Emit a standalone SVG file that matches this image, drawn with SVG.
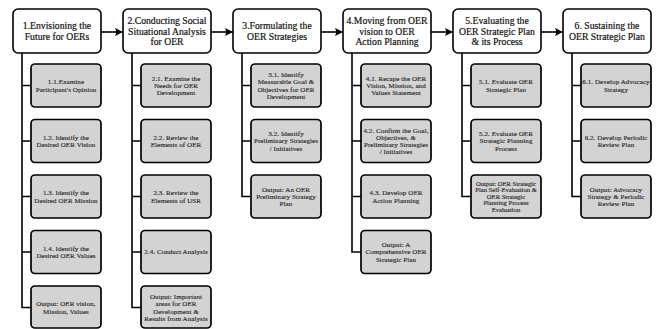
<svg xmlns="http://www.w3.org/2000/svg" width="656" height="329" viewBox="0 0 656 329">
<defs>
<marker id="ah" markerUnits="userSpaceOnUse" markerWidth="9" markerHeight="9" refX="8" refY="4" orient="auto">
<path d="M0,0 L8,4 L0,8 L1.5,4 z" fill="#000"/>
</marker>
<style>
.main{fill:#fff;stroke:#000;stroke-width:1.6}
.sub{fill:#d3d3d3;stroke:#000;stroke-width:1.7}
.mt{font-family:"Liberation Serif",serif;font-size:9.7px;fill:#111;text-anchor:middle;stroke:#111;stroke-width:0.2}
.st{font-family:"Liberation Serif",serif;font-size:7px;fill:#2a2a2a;text-anchor:middle;stroke:#2a2a2a;stroke-width:0.15;letter-spacing:0.08px}
.st5{font-size:6.6px;letter-spacing:0}
.ln{fill:none;stroke:#000;stroke-width:1.6}
</style>
</defs>
<rect width="656" height="329" fill="#fff"/>
<g id="connectors">
<line class="ln" x1="101" y1="32" x2="123" y2="32" marker-end="url(#ah)"/>
<line class="ln" x1="211" y1="32" x2="233" y2="32" marker-end="url(#ah)"/>
<line class="ln" x1="321" y1="32" x2="343" y2="32" marker-end="url(#ah)"/>
<line class="ln" x1="431" y1="32" x2="453" y2="32" marker-end="url(#ah)"/>
<line class="ln" x1="541" y1="32" x2="563" y2="32" marker-end="url(#ah)"/>
<path class="ln" d="M22,53 V307.5 H31 M22,85.5 H31 M22,141 H31 M22,196.5 H31 M22,252 H31"/>
<path class="ln" d="M132,53 V307.5 H141 M132,85.5 H141 M132,141 H141 M132,196.5 H141 M132,252 H141"/>
<path class="ln" d="M242,53 V196.5 H251 M242,85.5 H251 M242,141 H251"/>
<path class="ln" d="M352,53 V252 H361 M352,85.5 H361 M352,141 H361 M352,196.5 H361"/>
<path class="ln" d="M462,53 V196.5 H471 M462,85.5 H471 M462,141 H471"/>
<path class="ln" d="M572,53 V196.5 H581 M572,85.5 H581 M572,141 H581"/>
</g>
<g id="n1"><rect class="main" x="13" y="9" width="88" height="44" rx="5"/><text class="mt"><tspan x="57" y="29.3">1.Envisioning the</tspan><tspan x="57" y="39.8">Future for OERs</tspan></text></g>
<g id="n2"><rect class="main" x="123" y="9" width="88" height="44" rx="5"/><text class="mt"><tspan x="167" y="24">2.Conducting Social</tspan><tspan x="167" y="34.5">Situational Analysis</tspan><tspan x="167" y="45">for OER</tspan></text></g>
<g id="n3"><rect class="main" x="233" y="9" width="88" height="44" rx="5"/><text class="mt"><tspan x="277" y="29.3">3.Formulating the</tspan><tspan x="277" y="39.8">OER Strategies</tspan></text></g>
<g id="n4"><rect class="main" x="343" y="9" width="88" height="44" rx="5"/><text class="mt"><tspan x="387" y="24">4.Moving from OER</tspan><tspan x="387" y="34.5">vision to OER</tspan><tspan x="387" y="45">Action Planning</tspan></text></g>
<g id="n5"><rect class="main" x="453" y="9" width="88" height="44" rx="5"/><text class="mt"><tspan x="497" y="24">5.Evaluating the</tspan><tspan x="497" y="34.5">OER Strategic Plan</tspan><tspan x="497" y="45">&amp; its Process</tspan></text></g>
<g id="n6"><rect class="main" x="563" y="9" width="88" height="44" rx="5"/><text class="mt"><tspan x="607" y="29.3">6. Sustaining the</tspan><tspan x="607" y="39.8">OER Strategic Plan</tspan></text></g>

<g id="n1-1"><rect class="sub" x="31" y="64" width="70" height="43" rx="4"/><text class="st"><tspan x="66" y="84.3">1.1.Examine</tspan><tspan x="66" y="91.6">Participant's Opinion</tspan></text></g>
<g id="n1-2"><rect class="sub" x="31" y="119.5" width="70" height="43" rx="4"/><text class="st"><tspan x="66" y="139.8">1.2. Identify the</tspan><tspan x="66" y="147.1">Desired OER Vision</tspan></text></g>
<g id="n1-3"><rect class="sub" x="31" y="175" width="70" height="43" rx="4"/><text class="st"><tspan x="66" y="195.3">1.3. Identify the</tspan><tspan x="66" y="202.6">Desired OER Mission</tspan></text></g>
<g id="n1-4"><rect class="sub" x="31" y="230.5" width="70" height="43" rx="4"/><text class="st"><tspan x="66" y="250.8">1.4. Identify the</tspan><tspan x="66" y="258.1">Desired OER Values</tspan></text></g>
<g id="n1-5"><rect class="sub" x="31" y="286" width="70" height="42" rx="4"/><text class="st"><tspan x="66" y="306.3">Output: OER vision,</tspan><tspan x="66" y="313.6">Mission, Values</tspan></text></g>

<g id="n2-1"><rect class="sub" x="141" y="64" width="70" height="43" rx="4"/><text class="st"><tspan x="176" y="80.65">2.1. Examine the</tspan><tspan x="176" y="87.95">Needs for OER</tspan><tspan x="176" y="95.25">Development</tspan></text></g>
<g id="n2-2"><rect class="sub" x="141" y="119.5" width="70" height="43" rx="4"/><text class="st"><tspan x="176" y="139.8">2.2. Review the</tspan><tspan x="176" y="147.1">Elements of OER</tspan></text></g>
<g id="n2-3"><rect class="sub" x="141" y="175" width="70" height="43" rx="4"/><text class="st"><tspan x="176" y="195.3">2.3. Review the</tspan><tspan x="176" y="202.6">Elements of USR</tspan></text></g>
<g id="n2-4"><rect class="sub" x="141" y="230.5" width="70" height="43" rx="4"/><text class="st"><tspan x="176" y="254.45">2.4. Conduct Analysis</tspan></text></g>
<g id="n2-5"><rect class="sub" x="141" y="286" width="70" height="42" rx="4"/><text class="st"><tspan x="176" y="299">Output: Important</tspan><tspan x="176" y="306.3">areas for OER</tspan><tspan x="176" y="313.6">Development &amp;</tspan><tspan x="176" y="320.9">Results from Analysis</tspan></text></g>

<g id="n3-1"><rect class="sub" x="251" y="64" width="70" height="43" rx="4"/><text class="st"><tspan x="286" y="77">3.1. Identify</tspan><tspan x="286" y="84.3">Measurable Goal &amp;</tspan><tspan x="286" y="91.6">Objectives for OER</tspan><tspan x="286" y="98.9">Development</tspan></text></g>
<g id="n3-2"><rect class="sub" x="251" y="119.5" width="70" height="43" rx="4"/><text class="st"><tspan x="286" y="136.15">3.2. Identify</tspan><tspan x="286" y="143.45">Preliminary Strategies</tspan><tspan x="286" y="150.75">/ Initiatives</tspan></text></g>
<g id="n3-3"><rect class="sub" x="251" y="175" width="70" height="43" rx="4"/><text class="st"><tspan x="286" y="191.65">Output: An OER</tspan><tspan x="286" y="198.95">Preliminary Strategy</tspan><tspan x="286" y="206.25">Plan</tspan></text></g>

<g id="n4-1"><rect class="sub" x="361" y="64" width="70" height="43" rx="4"/><text class="st"><tspan x="396" y="80.65">4.1. Recape the OER</tspan><tspan x="396" y="87.95">Vision, Mission, and</tspan><tspan x="396" y="95.25">Values Statement</tspan></text></g>
<g id="n4-2"><rect class="sub" x="361" y="119.5" width="70" height="43" rx="4"/><text class="st"><tspan x="396" y="132.5">4.2. Confirm the Goal,</tspan><tspan x="396" y="139.8">Objectives, &amp;</tspan><tspan x="396" y="147.1">Preliminary Strategies</tspan><tspan x="396" y="154.4">/ Initiatives</tspan></text></g>
<g id="n4-3"><rect class="sub" x="361" y="175" width="70" height="43" rx="4"/><text class="st"><tspan x="396" y="195.3">4.3. Develop OER</tspan><tspan x="396" y="202.6">Action Planning</tspan></text></g>
<g id="n4-4"><rect class="sub" x="361" y="230.5" width="70" height="43" rx="4"/><text class="st"><tspan x="396" y="247.15">Output: A</tspan><tspan x="396" y="254.45">Comprehensive OER</tspan><tspan x="396" y="261.75">Strategic Plan</tspan></text></g>

<g id="n5-1"><rect class="sub" x="471" y="64" width="70" height="43" rx="4"/><text class="st"><tspan x="506" y="84.3">5.1. Evaluate OER</tspan><tspan x="506" y="91.6">Strategic Plan</tspan></text></g>
<g id="n5-2"><rect class="sub" x="471" y="119.5" width="70" height="43" rx="4"/><text class="st"><tspan x="506" y="136.15">5.2. Evaluate OER</tspan><tspan x="506" y="143.45">Strategic Planning</tspan><tspan x="506" y="150.75">Process</tspan></text></g>
<g id="n5-3"><rect class="sub" x="471" y="175" width="70" height="43" rx="4"/><text class="st st5"><tspan x="506" y="185.6">Output: OER Strategic</tspan><tspan x="506" y="192.2">Plan Self-Evaluation &amp;</tspan><tspan x="506" y="198.8">OER Strategic</tspan><tspan x="506" y="205.4">Planning Process</tspan><tspan x="506" y="212">Evaluation</tspan></text></g>

<g id="n6-1"><rect class="sub" x="581" y="64" width="70" height="43" rx="4"/><text class="st"><tspan x="616" y="84.3">6.1. Develop Advocacy</tspan><tspan x="616" y="91.6">Strategy</tspan></text></g>
<g id="n6-2"><rect class="sub" x="581" y="119.5" width="70" height="43" rx="4"/><text class="st"><tspan x="616" y="139.8">6.2. Develop Periodic</tspan><tspan x="616" y="147.1">Review Plan</tspan></text></g>
<g id="n6-3"><rect class="sub" x="581" y="175" width="70" height="43" rx="4"/><text class="st"><tspan x="616" y="191.65">Output: Advocacy</tspan><tspan x="616" y="198.95">Strategy &amp; Periodic</tspan><tspan x="616" y="206.25">Review Plan</tspan></text></g>
</svg>
